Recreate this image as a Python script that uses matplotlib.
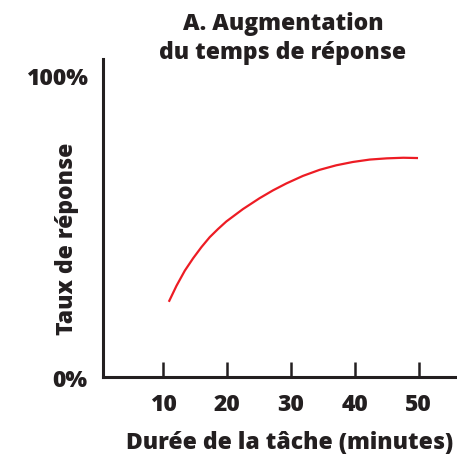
import matplotlib
matplotlib.use("Agg")
import matplotlib.pyplot as plt

# valeurs
duree = [10.9, 12.1, 13.4, 14.7, 16.0, 17.3, 18.6, 19.9, 22.5, 25.1, 27.2,
         29.3, 31.9, 34.5, 37.1, 39.7, 42.35, 45.0, 47.6, 49.9]
taux = [24.9, 30.2, 35.2, 39.3, 43.0, 46.3, 49.0, 51.5, 55.6, 59.2, 61.8,
        64.1, 66.6, 68.6, 70.1, 71.2, 72.0, 72.4, 72.6, 72.5]
xticks = [10, 20, 30, 40, 50]
yticks = [0, 100]
ytick_labels = ["0%", "100%"]

dark = "#231f20"
plt.rcParams["font.family"] = ["Open Sans", "DejaVu Sans"]
plt.rcParams["font.weight"] = 800
fs = 16.5

fig = plt.figure(figsize=(4.57, 4.56), dpi=100)
ax = fig.add_axes([103 / 457, 1 - 378 / 456, 1 - 103 / 457, (378 - 60) / 456])

ax.plot(duree, taux, color="#ed1c24", lw=1.6, solid_capstyle="butt")

ax.set_xlim(0.6, 56)
ax.set_ylim(0, 105.3)
ax.set_xticks(xticks)
ax.set_xticklabels([str(t) for t in xticks])
ax.set_yticks(yticks)
ax.set_yticklabels(ytick_labels)

for s in ["top", "right"]:
    ax.spines[s].set_visible(False)
for s in ["left", "bottom"]:
    ax.spines[s].set_linewidth(2.2)
    ax.spines[s].set_color(dark)

ax.tick_params(axis="x", direction="in", length=11, width=1.8, color=dark,
               labelsize=fs, labelcolor=dark, pad=11)
ax.tick_params(axis="y", length=0, labelsize=fs, labelcolor=dark, pad=11)
for lab in ax.get_xticklabels() + ax.get_yticklabels():
    lab.set_fontweight(800)

fig.text(67 / 457, 1 - 239 / 456, "Taux de réponse", rotation=90,
         ha="center", va="center", fontsize=fs, fontweight=800, color=dark)
fig.text(290 / 457, 1 - 443 / 456, "Durée de la tâche (minutes)",
         ha="center", va="center", fontsize=fs, fontweight=800, color=dark)
fig.text(283 / 457, 1 - 38.5 / 456, "A. Augmentation\ndu temps de réponse",
         ha="center", va="center", fontsize=fs, fontweight=800, color=dark,
         linespacing=1.27)

fig.savefig("out.png", dpi=100)
